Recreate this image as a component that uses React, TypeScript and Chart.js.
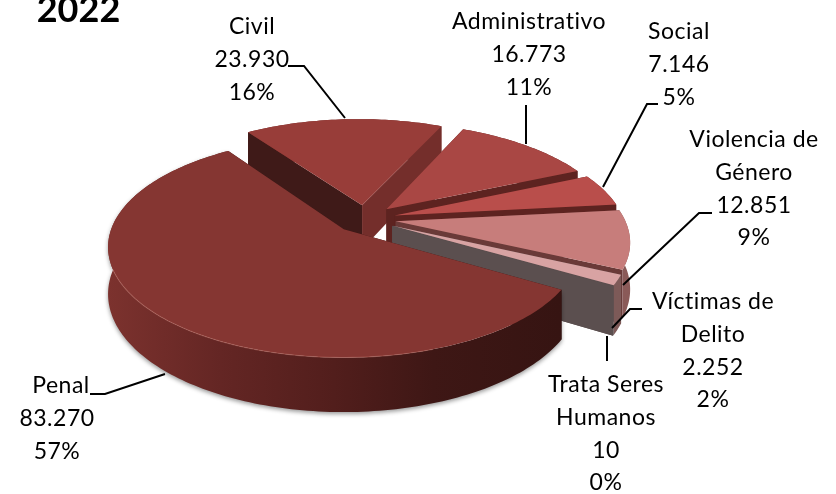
import React, { useEffect, useRef } from "react";
import { Chart, registerables } from "chart.js";

Chart.register(...registerables);

const title = "2022";
const categories = ["Civil", "Administrativo", "Social", "Violencia de Género", "Víctimas de Delito", "Trata Seres Humanos", "Penal"];
const wrappedNames = [["Civil"], ["Administrativo"], ["Social"], ["Violencia de", "Género"], ["Víctimas de", "Delito"], ["Trata Seres", "Humanos"], ["Penal"]];
const values = [23930, 16773, 7146, 12851, 2252, 10, 83270];
const topColors = ["#983d39", "#a94744", "#b94e4b", "#c77d7b", "#d8a3a3", "#5b4f4f", "#853632"];
const startWallColors = ["#3f1a18", "#5d2320", "#5d2320", "#6a3a38", "#5b4f4f", "#5b4f4f", "#361412"];
const endWallColors = ["#742e2b", "#5d2320", "#5d2320", "#6a3a38", "#5b4f4f", "#5b4f4f", "#3f1a18"];
const rimWallColors = ["#742e2b", "#5d2320", "#6e2b28", "#8a5a58", "#7d5a58", "#5b4f4f", "#5c2220"];

// Label anchors: [centre x, first line centre y, x shift of the name lines], then leader line polyline
const labelAnchors = [[252, 27, 0], [529, 22, 0], [679, 32, 0], [754, 140, 0], [713, 302, 0], [606, 385, 0], [57, 386, 4]];
const leaders = [
  [[288, 66], [304, 66], [345, 118]],
  [[526, 105], [526, 144]],
  [[658, 104], [647, 104], [603, 187]],
  [[712, 213], [699, 213], [623, 285]],
  [[642, 309], [630, 309], [612, 328]],
  [[607, 336], [607, 361]],
  [[90, 394], [105, 394], [165, 374]],
];

const LINE_H = 32.6;
const FONT = "Lato";
const view = { sx: 365, sy: 219, f: 229, g: 104, p: 0.16, depth: 45, skew: 4 };

function fmt(n: number) {
  return String(n).replace(/\B(?=(\d{3})+(?!\d))/g, ".");
}

function proj(u: number, v: number, low: boolean) {
  const w = 1 - view.p * v;
  return [view.sx + (view.f * u) / w + view.skew * v, view.sy + (view.g * v) / w + (low ? view.depth / w : 0)];
}

function poly(ctx: CanvasRenderingContext2D, pts: number[][]) {
  ctx.beginPath();
  pts.forEach((p, i) => (i ? ctx.lineTo(p[0], p[1]) : ctx.moveTo(p[0], p[1])));
  ctx.closePath();
}

const pie3d = {
  id: "pie3d",
  beforeDatasetsDraw(chart: any) {
    const ctx: CanvasRenderingContext2D = chart.ctx;
    const arcs = chart.getDatasetMeta(0).data;
    ctx.save();
    arcs.forEach((el: any, i: number) => {
      const R = el.outerRadius;
      const a0 = el.startAngle;
      const a1 = el.endAngle;
      const mid = (a0 + a1) / 2;
      const e = el.options.offset / 4 / R;
      const ox = Math.cos(mid) * e;
      const oy = Math.sin(mid) * e;
      const steps = Math.max(2, Math.ceil((a1 - a0) / 0.02));
      const rim: number[][] = [];
      for (let s = 0; s <= steps; s++) {
        const a = a0 + ((a1 - a0) * s) / steps;
        rim.push([ox + Math.cos(a), oy + Math.sin(a)]);
      }
      const up = (p: number[]) => proj(p[0], p[1], false);
      const low = (p: number[]) => proj(p[0], p[1], true);
      const apex = [ox, oy];
      const first = rim[0];
      const last = rim[rim.length - 1];

      const drawRim = () => {
        poly(ctx, [...rim.map(up), ...rim.slice().reverse().map(low)]);
        if (i === arcs.length - 1) {
          const g = ctx.createLinearGradient(107, 0, 560, 0);
          g.addColorStop(0, "#7c322e");
          g.addColorStop(0.25, "#642624");
          g.addColorStop(0.5, "#521e1c");
          g.addColorStop(0.72, "#3e1715");
          g.addColorStop(1, "#361412");
          ctx.fillStyle = g;
          ctx.save();
          ctx.shadowColor = "rgba(0,0,0,0.4)";
          ctx.shadowBlur = 4;
          ctx.shadowOffsetY = 2;
          ctx.fill();
          ctx.restore();
        } else {
          ctx.fillStyle = rimWallColors[i];
          ctx.fill();
        }
      };

      const facesBack = Math.sin(mid) < 0;
      if (facesBack) drawRim();
      poly(ctx, [up(apex), up(first), low(first), low(apex)]);
      ctx.fillStyle = startWallColors[i];
      ctx.fill();
      poly(ctx, [up(apex), up(last), low(last), low(apex)]);
      ctx.fillStyle = endWallColors[i];
      ctx.fill();
      if (!facesBack) drawRim();

      poly(ctx, [up(apex), ...rim.map(up)]);
      ctx.fillStyle = el.options.backgroundColor;
      ctx.fill();

      if (i === arcs.length - 1) {
        const lit = rim.filter((p) => p[1] > 0.45 && p[0] < 0.25);
        ctx.beginPath();
        lit.map(up).forEach((p, k) => (k ? ctx.lineTo(p[0], p[1]) : ctx.moveTo(p[0], p[1])));
        ctx.strokeStyle = "rgba(190,110,100,0.4)";
        ctx.lineWidth = 1.2;
        ctx.stroke();
      }
    });
    ctx.restore();
    return false;
  },
  afterDraw(chart: any) {
    const ctx: any = chart.ctx;
    const total = values.reduce((a, b) => a + b, 0);
    ctx.save();
    ctx.strokeStyle = "#000";
    ctx.lineWidth = 2;
    leaders.forEach((line) => {
      ctx.beginPath();
      line.forEach((p, k) => (k ? ctx.lineTo(p[0], p[1]) : ctx.moveTo(p[0], p[1])));
      ctx.stroke();
    });
    ctx.fillStyle = "#000";
    ctx.textAlign = "center";
    ctx.textBaseline = "middle";
    ctx.font = `23px ${FONT}`;
    ctx.letterSpacing = "0.5px";
    values.forEach((v, i) => {
      const [cx, cy, nameShift] = labelAnchors[i];
      const names = wrappedNames[i];
      const lines = [...names, fmt(v), `${Math.round((v / total) * 100)}%`];
      lines.forEach((t, k) => ctx.fillText(t, cx + (k < names.length ? nameShift : 0), cy + k * LINE_H));
    });
    ctx.letterSpacing = "0px";
    ctx.font = `bold 36px ${FONT}`;
    ctx.fillText(title, 78.5, 10);
    ctx.restore();
  },
};

export default function App() {
  const ref = useRef<HTMLCanvasElement>(null);
  useEffect(() => {
    const chart = new Chart(ref.current as HTMLCanvasElement, {
      type: "pie",
      data: {
        labels: categories,
        datasets: [{ data: values, backgroundColor: topColors, offset: 105, borderWidth: 0 }],
      },
      options: {
        responsive: false,
        animation: false,
        rotation: 326,
        plugins: { legend: { display: false }, tooltip: { enabled: false } },
      },
      plugins: [pie3d],
    } as any);
    return () => chart.destroy();
  }, []);
  return (
    <div style={{ position: "fixed", left: 0, top: 0, width: 836, height: 494, background: "#fff", overflow: "hidden" }}>
      <canvas ref={ref} width={836} height={494} style={{ display: "block" }} />
    </div>
  );
}
